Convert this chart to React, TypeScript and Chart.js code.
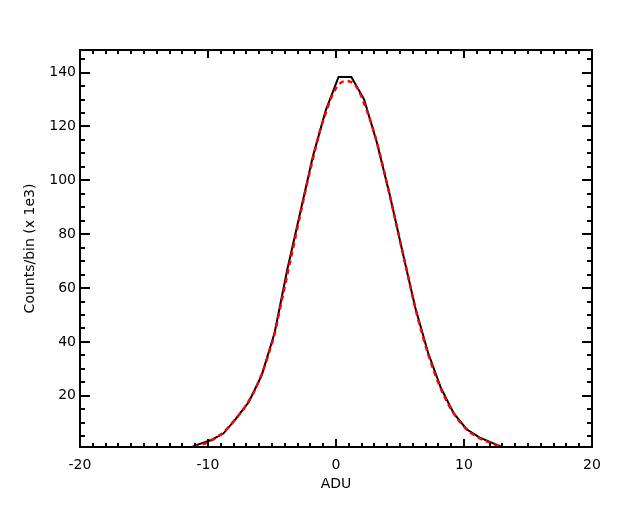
import React, { useEffect, useRef } from "react";
import { Chart, registerables } from "chart.js";

Chart.register(...registerables);

// Histogram (black solid line), bin centres in ADU and counts/bin (x 1e3)
const histX = [-11.8, -10.8, -9.8, -8.8, -7.8, -6.8, -5.8, -4.8, -3.8, -2.8, -1.8, -0.8, 0.2, 1.2, 2.2, 3.2, 4.2, 5.2, 6.2, 7.2, 8.2, 9.2, 10.2, 11.2, 12.2, 13.2];
const histY = [0.0, 1.9, 3.5, 6.0, 11.6, 17.8, 27.7, 43.3, 67.0, 88.0, 109.0, 126.0, 138.4, 138.4, 130.0, 114.0, 94.6, 73.4, 52.6, 35.9, 22.9, 13.5, 7.6, 4.6, 2.5, 0.5];

// Fitted curve (red dashed)
const fitX = [-11.8, -11.3, -10.8, -10.3, -9.8, -9.3, -8.8, -8.3, -7.8, -7.3, -6.8, -6.3, -5.8, -5.3, -4.8, -4.3, -3.8, -3.3, -2.8, -2.3, -1.8, -1.3, -0.8, -0.3, 0.2, 0.7, 1.2, 1.7, 2.2, 2.7, 3.2, 3.7, 4.2, 4.7, 5.2, 5.7, 6.2, 6.7, 7.2, 7.7, 8.2, 8.7, 9.2, 9.7, 10.2, 10.7, 11.2, 11.7, 12.2, 12.7, 13.2];
const fitY = [0.5, 0.9, 1.4, 2.2, 3.3, 4.6, 6.4, 8.8, 11.6, 14.5, 18.2, 22.5, 28.0, 35.0, 43.0, 54.0, 65.0, 76.0, 87.0, 98.0, 108.0, 117.5, 125.0, 131.5, 135.5, 136.8, 136.5, 134.0, 128.5, 122.0, 114.0, 104.5, 94.5, 84.0, 73.5, 63.0, 52.5, 43.5, 35.5, 28.5, 22.5, 17.5, 13.5, 10.2, 7.6, 5.7, 4.3, 3.2, 2.3, 1.5, 0.8];

const xTicks = [-20, -10, 0, 10, 20];
const yTicks = [20, 40, 60, 80, 100, 120, 140];
const X_MIN = -20;
const X_MAX = 20;
const Y_MIN = 1.0;
const Y_MAX = 148.4;
const X_MINOR = 1;
const Y_MINOR = 5;

const FONT = "DejaVu Sans";

const frameTicks = {
  id: "frameTicks",
  afterDatasetsDraw(chart: any) {
    const { ctx, chartArea: a, scales } = chart;
    const x = scales.x;
    const y = scales.y;
    ctx.save();
    ctx.strokeStyle = "#000";
    ctx.lineWidth = 2;
    ctx.beginPath();
    for (let v = X_MIN; v <= X_MAX + 1e-9; v += X_MINOR) {
      const px = Math.round(x.getPixelForValue(v));
      const major = Math.abs(v % 10) < 1e-9;
      const len = major ? 8 : 4;
      ctx.moveTo(px, a.bottom);
      ctx.lineTo(px, a.bottom - len);
      ctx.moveTo(px, a.top);
      ctx.lineTo(px, a.top + len);
    }
    for (let v = Y_MINOR; v < Y_MAX; v += Y_MINOR) {
      const py = Math.round(y.getPixelForValue(v));
      const major = v % 20 === 0;
      const len = major ? 10 : 5;
      ctx.moveTo(a.left, py);
      ctx.lineTo(a.left + len, py);
      ctx.moveTo(a.right, py);
      ctx.lineTo(a.right - len, py);
    }
    ctx.stroke();
    ctx.lineWidth = 2;
    ctx.strokeRect(a.left, a.top, a.right - a.left, a.bottom - a.top);
    ctx.restore();
  },
};

export default function App() {
  const ref = useRef<HTMLCanvasElement | null>(null);

  useEffect(() => {
    if (!ref.current) return;
    const chart = new Chart(ref.current, {
      type: "scatter",
      data: {
        datasets: [
          {
            label: "fit",
            data: fitX.map((x, i) => ({ x, y: fitY[i] })),
            showLine: true,
            borderColor: "#ff0000",
            borderWidth: 2.5,
            borderDash: [5, 4],
            pointRadius: 0,
            cubicInterpolationMode: "monotone",
          },
          {
            label: "histogram",
            data: histX.map((x, i) => ({ x, y: histY[i] })),
            showLine: true,
            borderColor: "#000000",
            borderWidth: 2,
            pointRadius: 0,
            tension: 0,
          },
        ],
      },
      options: {
        animation: false,
        responsive: false,
        devicePixelRatio: 1,
        layout: { padding: { top: 50, right: 48, left: 0, bottom: 0 } },
        plugins: { legend: { display: false }, tooltip: { enabled: false } },
        scales: {
          x: {
            type: "linear",
            min: X_MIN,
            max: X_MAX,
            grid: { display: false, drawTicks: false },
            border: { display: false },
            afterBuildTicks: (s: any) => {
              s.ticks = xTicks.map((v) => ({ value: v }));
            },
            afterFit: (s: any) => {
              s.height = 65;
            },
            ticks: {
              color: "#000",
              font: { family: FONT, size: 14 },
              padding: 10,
              maxRotation: 0,
              autoSkip: false,
            },
            title: {
              display: true,
              text: "ADU",
              color: "#000",
              font: { family: FONT, size: 14 },
              padding: { top: 0, bottom: 19 },
            },
          },
          y: {
            type: "linear",
            min: Y_MIN,
            max: Y_MAX,
            grid: { display: false, drawTicks: false },
            border: { display: false },
            afterBuildTicks: (s: any) => {
              s.ticks = yTicks.map((v) => ({ value: v }));
            },
            afterFit: (s: any) => {
              s.width = 80;
            },
            ticks: {
              color: "#000",
              font: { family: FONT, size: 14 },
              padding: 4,
              autoSkip: false,
            },
            title: {
              display: true,
              text: "Counts/bin (x 1e3)",
              color: "#000",
              font: { family: FONT, size: 14 },
              padding: { top: 22, bottom: 0 },
            },
          },
        },
      },
      plugins: [frameTicks],
    });
    return () => chart.destroy();
  }, []);

  return (
    <div style={{ position: "fixed", left: 0, top: 0, width: 640, height: 512, background: "#fff" }}>
      <canvas ref={ref} width={640} height={512} style={{ display: "block" }} />
    </div>
  );
}
